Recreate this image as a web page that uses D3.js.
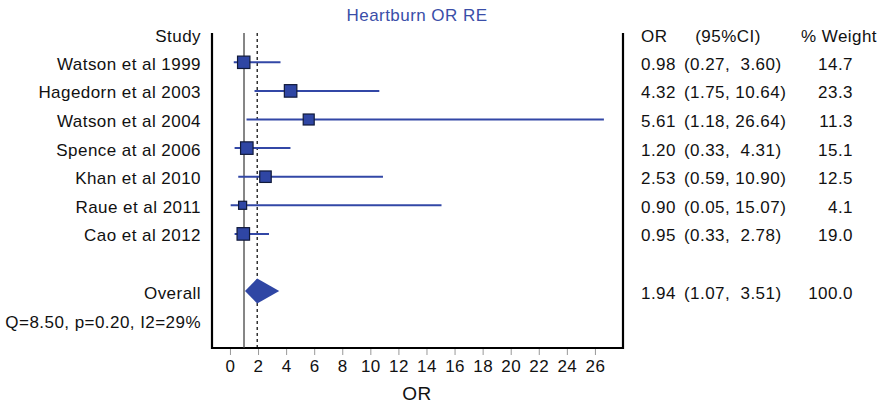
<!DOCTYPE html>
<html>
<head>
<meta charset="utf-8">
<script src="https://cdn.jsdelivr.net/npm/d3@7"></script>
<style>
  body { margin: 0; background: #fff; }
  text { font-family: "Liberation Sans", Arial, sans-serif; fill: #111; letter-spacing: 0.45px; }
</style>
</head>
<body>
<div id="forest"></div>
<script>
// study data
var studies = ["Watson et al 1999", "Hagedorn et al 2003", "Watson et al 2004",
  "Spence at al 2006", "Khan et al 2010", "Raue et al 2011", "Cao et al 2012"];
var orValues = [0.98, 4.32, 5.61, 1.20, 2.53, 0.90, 0.95];
var ciLow = [0.27, 1.75, 1.18, 0.33, 0.59, 0.05, 0.33];
var ciHigh = [3.60, 10.64, 26.64, 4.31, 10.90, 15.07, 2.78];
var weights = [14.7, 23.3, 11.3, 15.1, 12.5, 4.1, 19.0];

// pooled estimate
var overall = { label: "Overall", or: 1.94, lo: 1.07, hi: 3.51, weight: 100.0 };
var heterogeneity = "Q=8.50, p=0.20, I2=29%";

var xTicks = [0, 2, 4, 6, 8, 10, 12, 14, 16, 18, 20, 22, 24, 26];

var svgWidth = 884;
var svgHeight = 406;

var plot = { left: 212, right: 623, top: 33, bottom: 348 };

var blue = "#3247a6";
var fontSize = "17px";

var svg = d3.select("#forest")
  .append("svg")
  .attr("width", svgWidth)
  .attr("height", svgHeight);

// x scale in OR units
var x = d3.scaleLinear()
  .domain([-1.28, 28])
  .range([plot.left, plot.right]);

// row positions (index 8 = overall, 9 = heterogeneity line)
var y = d3.scaleLinear()
  .domain([0, 9])
  .range([62.3, 319.7]);

// marker size from weight
var boxSize = d3.scaleLinear()
  .domain([4, 15])
  .range([8, 12.5])
  .clamp(true);

var rows = studies.map(function(s, i) {
  return { label: s, or: orValues[i], lo: ciLow[i], hi: ciHigh[i], weight: weights[i], idx: i };
});

function fmt(v) { return v.toFixed(2); }
function ciText(d) {
  return "(" + fmt(d.lo) + ", " + (d.hi < 10 ? " " : "") + fmt(d.hi) + ")";
}

// title
svg.append("text")
  .attr("x", 417)
  .attr("y", 21)
  .attr("text-anchor", "middle")
  .style("font-size", fontSize)
  .style("fill", "#3a4ea8")
  .text("Heartburn OR RE");

// frame (left, bottom, right)
svg.append("path")
  .attr("d", "M" + plot.left + "," + plot.top + "V" + plot.bottom + "H" + plot.right + "V" + plot.top)
  .attr("fill", "none")
  .attr("stroke", "#000")
  .attr("stroke-width", 2.2);

// bottom axis
var xAxis = svg.append("g")
  .attr("transform", "translate(0," + (plot.bottom + 1) + ")")
  .call(d3.axisBottom(x).tickValues(xTicks).tickSize(6).tickPadding(5));
xAxis.select(".domain").remove();
xAxis.selectAll(".tick line").attr("stroke", "#999");
xAxis.selectAll(".tick text")
  .style("font-size", fontSize)
  .style("font-family", "'Liberation Sans', Arial, sans-serif")
  .attr("fill", "#111");

svg.append("text")
  .attr("x", 417)
  .attr("y", 400)
  .attr("text-anchor", "middle")
  .style("font-size", "19px")
  .text("OR");

// reference lines: null effect and pooled OR
svg.append("line")
  .attr("x1", x(1)).attr("x2", x(1))
  .attr("y1", plot.top).attr("y2", plot.bottom)
  .attr("stroke", "#444")
  .attr("stroke-width", 1.3);

svg.append("line")
  .attr("x1", x(overall.or)).attr("x2", x(overall.or))
  .attr("y1", plot.top).attr("y2", plot.bottom)
  .attr("stroke", "#000")
  .attr("stroke-width", 1.2)
  .attr("stroke-dasharray", "3,3");

// confidence intervals
svg.selectAll(".ci")
  .data(rows)
  .enter()
  .append("line")
  .attr("class", "ci")
  .attr("x1", d => x(d.lo))
  .attr("x2", d => x(d.hi))
  .attr("y1", d => y(d.idx))
  .attr("y2", d => y(d.idx))
  .attr("stroke", blue)
  .attr("stroke-width", 2);

// boxes
svg.selectAll(".box")
  .data(rows)
  .enter()
  .append("rect")
  .attr("class", "box")
  .attr("x", d => x(d.or) - boxSize(d.weight) / 2)
  .attr("y", d => y(d.idx) - boxSize(d.weight) / 2)
  .attr("width", d => boxSize(d.weight))
  .attr("height", d => boxSize(d.weight))
  .attr("fill", "#2f46a4")
  .attr("stroke", "#111a3a")
  .attr("stroke-width", 1.2);

// overall diamond
var yo = y(8);
svg.append("path")
  .attr("d", "M" + x(overall.lo) + "," + yo +
    "L" + x(overall.or) + "," + (yo - 12.5) +
    "L" + x(overall.hi) + "," + yo +
    "L" + x(overall.or) + "," + (yo + 12.5) + "Z")
  .attr("fill", "#2f46a4");

// left labels
var labelX = 201;
svg.append("text")
  .attr("x", labelX).attr("y", y(-1) + 8)
  .attr("text-anchor", "end")
  .style("font-size", fontSize)
  .text("Study");

svg.selectAll(".study")
  .data(rows)
  .enter()
  .append("text")
  .attr("class", "study")
  .attr("x", labelX)
  .attr("y", d => y(d.idx) + 7.5)
  .attr("text-anchor", "end")
  .style("font-size", fontSize)
  .text(d => d.label);

svg.append("text")
  .attr("x", labelX).attr("y", y(8) + 7.5)
  .attr("text-anchor", "end")
  .style("font-size", fontSize)
  .text(overall.label);

svg.append("text")
  .attr("x", labelX).attr("y", y(9) + 8)
  .attr("text-anchor", "end")
  .style("font-size", fontSize)
  .text(heterogeneity);

// right-hand table
var colOR = 641;
var colCI = 684;
var colW = 853;

svg.append("text").attr("x", colOR).attr("y", y(-1) + 8)
  .style("font-size", fontSize).text("OR");
svg.append("text").attr("x", 728).attr("y", y(-1) + 8)
  .attr("text-anchor", "middle")
  .style("font-size", fontSize).text("(95%CI)");
svg.append("text").attr("x", 877).attr("y", y(-1) + 8)
  .attr("text-anchor", "end")
  .style("font-size", fontSize).text("% Weight");

var tableRows = rows.concat([Object.assign({ idx: 8 }, overall)]);

svg.selectAll(".orText")
  .data(tableRows)
  .enter()
  .append("text")
  .attr("class", "orText")
  .attr("x", colOR)
  .attr("y", d => y(d.idx) + 7.5)
  .style("font-size", fontSize)
  .text(d => fmt(d.or));

svg.selectAll(".ciText")
  .data(tableRows)
  .enter()
  .append("text")
  .attr("class", "ciText")
  .attr("x", colCI)
  .attr("y", d => y(d.idx) + 7.5)
  .style("font-size", fontSize)
  .style("white-space", "pre")
  .text(ciText);

svg.selectAll(".wText")
  .data(tableRows)
  .enter()
  .append("text")
  .attr("class", "wText")
  .attr("x", colW)
  .attr("y", d => y(d.idx) + 7.5)
  .attr("text-anchor", "end")
  .style("font-size", fontSize)
  .text(d => d.weight.toFixed(1));
</script>
</body>
</html>
